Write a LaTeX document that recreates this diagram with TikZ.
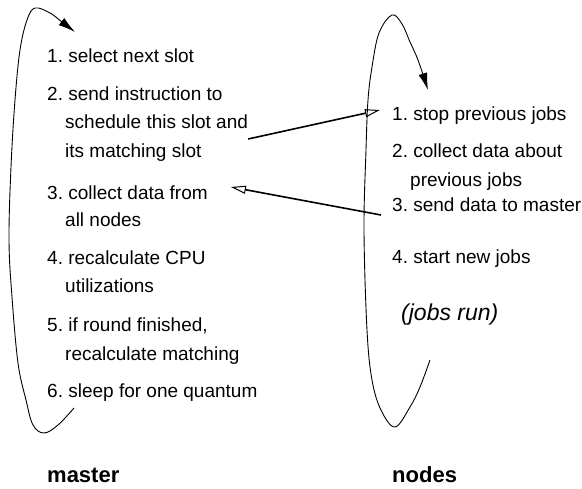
\documentclass[tikz,border=0pt]{standalone}
\usepackage{fontspec}
\setmainfont{Liberation Sans}
\usetikzlibrary{arrows.meta}
\frenchspacing
\begin{document}
\begin{tikzpicture}[x=1pt,y=-1pt,
  txt/.style={anchor=base west,inner sep=0pt,font=\fontsize{19}{23}\selectfont},
  hd/.style={anchor=base west,inner sep=0pt,font=\fontsize{22}{26}\selectfont\bfseries},
  note/.style={anchor=base west,inner sep=0pt,font=\fontsize{23}{27}\selectfont\itshape},
  looparrow/.style={line width=0.9pt,-{Latex[length=17pt,width=9pt]}},
  msg/.style={line width=1.6pt,-{Triangle[open,length=15pt,width=8pt,line width=1pt]}}]
\useasboundingbox (0,0) rectangle (582,489);
% master column
\node[txt] (m1)  at (47,63)  {1. select next slot};
\node[txt] (m2a) at (47,101) {2. send instruction to};
\node[txt] (m2b) at (65,129) {schedule this slot and};
\node[txt] (m2c) at (65,158) {its matching slot};
\node[txt] (m3a) at (47,200) {3. collect data from};
\node[txt] (m3b) at (65,227) {all nodes};
\node[txt] (m4a) at (47,265) {4. recalculate CPU};
\node[txt] (m4b) at (65,293) {utilizations};
\node[txt] (m5a) at (47,332) {5. if round finished,};
\node[txt] (m5b) at (65,361) {recalculate matching};
\node[txt] (m6)  at (47,398) {6. sleep for one quantum};
\node[hd]  (master) at (47,483) {master};
% nodes column
\node[txt] (n1)  at (392,121) {1. stop previous jobs};
\node[txt] (n2a) at (392,158) {2. collect data about};
\node[txt] (n2b) at (410,187) {previous jobs};
\node[txt] (n3)  at (392,212) {3. send data to master};
\node[txt] (n4)  at (392,264) {4. start new jobs};
\node[note] (run) at (401,321) {(jobs run)};
\node[hd]  (nodes) at (392,483) {nodes};
% loops
\draw[looparrow] plot[smooth,tension=0.6] coordinates {(74,408) (58,425) (44,433) (33,425) (26,400) (18,363) (12,297) (9,240) (11,167) (15,100) (20,50) (27,20) (35,8) (50,13) (62,22) (75,32)};
\draw[looparrow] plot[smooth,tension=0.6] coordinates {(430,360) (420,387) (410,407) (395,427) (381,410) (372,380) (367,330) (364,230) (366,150) (368,100) (372,67) (379,33) (392,15) (402,24) (410,42) (418,60) (428,90)};
% messages
\draw[msg] ([yshift=-10pt]m2b.base east) -- ([xshift=-12pt,yshift=11pt]n1.base west);
\draw[msg] ([xshift=-11pt,yshift=-3pt]n3.base west) -- ([xshift=23pt,yshift=13pt]m3a.base east);
\end{tikzpicture}
\end{document}
